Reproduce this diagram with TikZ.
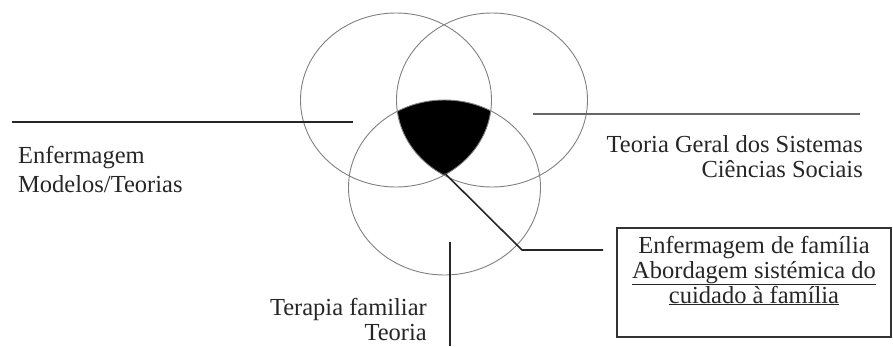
\documentclass[tikz,border=0pt]{standalone}
\usepackage{fontspec}
\setmainfont{Liberation Serif}
\begin{document}
\begin{tikzpicture}[x=1pt,y=-1pt,
  ring/.style={draw=black!50,line width=0.9pt},
  conn/.style={draw=black!85,line width=1.6pt},
  lbl/.style={inner sep=0pt,text=black!85,font=\fontsize{24.5}{25}\selectfont},
  boxstyle/.style={draw=black!80,line width=1.3pt,minimum width=274pt,minimum height=109pt,inner sep=0pt}]
\useasboundingbox (0,0) rectangle (893,346);
% circles
\coordinate (cL) at (396,100);
\coordinate (cR) at (492,100);
\coordinate (cB) at (444.5,187.5);
\begin{scope}
  \clip (cL) ellipse [x radius=95.5, y radius=87];
  \clip (cR) ellipse [x radius=95.5, y radius=87];
  \fill[black] (cB) ellipse [x radius=96, y radius=87.5];
\end{scope}
\draw[ring] (cL) ellipse [x radius=95.5, y radius=87];
\draw[ring] (cR) ellipse [x radius=95.5, y radius=87];
\draw[ring] (cB) ellipse [x radius=96, y radius=87.5];
% connector coordinates
\coordinate (lA) at (12,122);
\coordinate (lB) at (353,122);
\coordinate (rA) at (533,114);
\coordinate (rB) at (860,114);
\coordinate (v) at (444.5,173);
\coordinate (elb) at (522,250);
\coordinate (dEnd) at (603,250);
\coordinate (vA) at (450,242);
\coordinate (vB) at (450,346);
\draw[conn] (lA) -- (lB);
\draw[conn,draw=black!60,line width=2.4pt] (rA) -- (rB);
\draw[conn] (v) -- (elb) -- (dEnd);
\draw[conn] (vA) -- (vB);
% labels
\node[lbl,anchor=base west] (enf) at (18,163) {Enfermagem};
\node[lbl,anchor=base west] (mod) at (18,192) {Modelos/Teorias};
\node[lbl,anchor=base east] (tgs) at (863,152) {Teoria Geral dos Sistemas};
\node[lbl,anchor=base east] (cs) at (863,177) {Ciências Sociais};
\node[lbl,anchor=base east] (tf) at (427,315) {Terapia familiar};
\node[lbl,anchor=base east] (teo) at (427,340) {Teoria};
% box
\node[boxstyle] (box) at (754,282.5) {};
\node[lbl,anchor=base] (b1) at (754,253) {Enfermagem de família};
\node[lbl,anchor=base] (b2) at (754,278) {\underline{Abordagem sistémica do}};
\node[lbl,anchor=base] (b3) at (754,303) {\underline{cuidado à família}};
\end{tikzpicture}
\end{document}
